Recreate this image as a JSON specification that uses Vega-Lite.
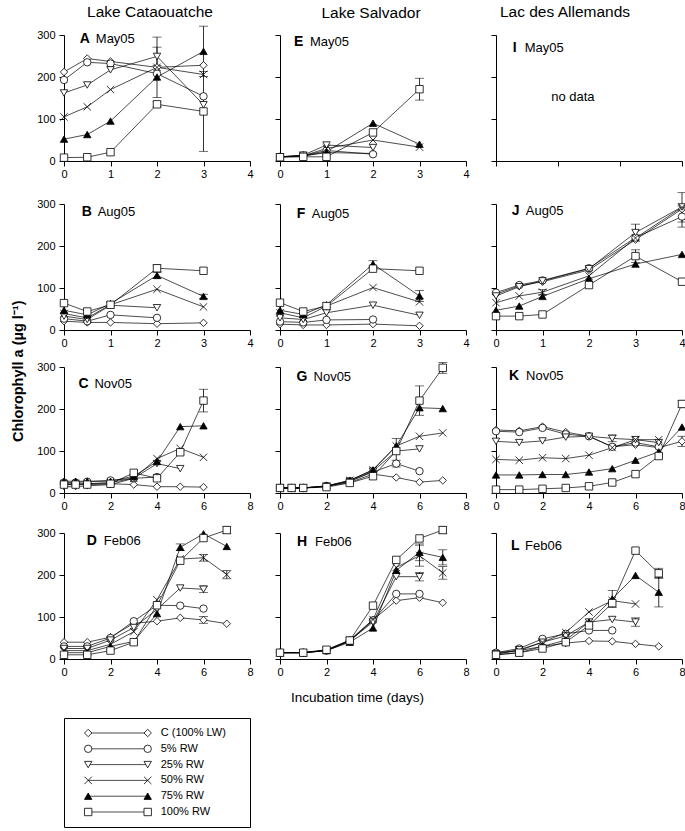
{
"$schema": "https://vega.github.io/schema/vega-lite/v6.json",
"padding": {"left": 11, "top": 5, "right": 0, "bottom": 5},
"columns": 3,
"spacing": {"row": 13, "column": 20},
"bounds": "full",
"align": "each",
"title": {"text": "Chlorophyll a (µg l⁻¹)", "orient": "left", "anchor": "middle", "fontSize": 14.5, "fontWeight": "bold", "offset": 10, "dx": 45},
"resolve": {"scale": {"x": "independent", "y": "independent"}},
"datasets": {
"A": [
{"trt":"C (100% LW)","day":0,"chl":212},{"trt":"C (100% LW)","day":0.5,"chl":244},{"trt":"C (100% LW)","day":1,"chl":237},{"trt":"C (100% LW)","day":2,"chl":223},{"trt":"C (100% LW)","day":3,"chl":228},
{"trt":"5% RW","day":0,"chl":193},{"trt":"5% RW","day":0.5,"chl":235},{"trt":"5% RW","day":1,"chl":232},{"trt":"5% RW","day":2,"chl":208},{"trt":"5% RW","day":3,"chl":154},
{"trt":"25% RW","day":0,"chl":162},{"trt":"25% RW","day":0.5,"chl":181},{"trt":"25% RW","day":1,"chl":217},{"trt":"25% RW","day":2,"chl":249,"sd":22},{"trt":"25% RW","day":3,"chl":134},
{"trt":"50% RW","day":0,"chl":105},{"trt":"50% RW","day":0.5,"chl":129},{"trt":"50% RW","day":1,"chl":170},{"trt":"50% RW","day":2,"chl":223,"sd":72},{"trt":"50% RW","day":3,"chl":206},
{"trt":"75% RW","day":0,"chl":52},{"trt":"75% RW","day":0.5,"chl":63},{"trt":"75% RW","day":1,"chl":95},{"trt":"75% RW","day":2,"chl":200},{"trt":"75% RW","day":3,"chl":261,"sd":60},
{"trt":"100% RW","day":0,"chl":8},{"trt":"100% RW","day":0.5,"chl":9},{"trt":"100% RW","day":1,"chl":21},{"trt":"100% RW","day":2,"chl":135,"sd":6},{"trt":"100% RW","day":3,"chl":118,"sd":95}
],
"E": [
{"trt":"C (100% LW)","day":0,"chl":10},{"trt":"C (100% LW)","day":0.5,"chl":12},{"trt":"C (100% LW)","day":1,"chl":20},{"trt":"C (100% LW)","day":2,"chl":18},
{"trt":"5% RW","day":0,"chl":10},{"trt":"5% RW","day":0.5,"chl":13},{"trt":"5% RW","day":1,"chl":25},{"trt":"5% RW","day":2,"chl":16},
{"trt":"25% RW","day":0,"chl":10},{"trt":"25% RW","day":0.5,"chl":14},{"trt":"25% RW","day":1,"chl":38},{"trt":"25% RW","day":2,"chl":32},
{"trt":"50% RW","day":0,"chl":10},{"trt":"50% RW","day":0.5,"chl":12},{"trt":"50% RW","day":1,"chl":30},{"trt":"50% RW","day":2,"chl":50},{"trt":"50% RW","day":3,"chl":33},
{"trt":"75% RW","day":0,"chl":10},{"trt":"75% RW","day":0.5,"chl":12},{"trt":"75% RW","day":1,"chl":22},{"trt":"75% RW","day":2,"chl":90},{"trt":"75% RW","day":3,"chl":40},
{"trt":"100% RW","day":0,"chl":9},{"trt":"100% RW","day":0.5,"chl":10},{"trt":"100% RW","day":1,"chl":10},{"trt":"100% RW","day":2,"chl":68},{"trt":"100% RW","day":3,"chl":171,"sd":26}
],
"B": [
{"trt":"C (100% LW)","day":0,"chl":21},{"trt":"C (100% LW)","day":0.5,"chl":18},{"trt":"C (100% LW)","day":1,"chl":18},{"trt":"C (100% LW)","day":2,"chl":15},{"trt":"C (100% LW)","day":3,"chl":17},
{"trt":"5% RW","day":0,"chl":27},{"trt":"5% RW","day":0.5,"chl":21},{"trt":"5% RW","day":1,"chl":36},{"trt":"5% RW","day":2,"chl":29},
{"trt":"25% RW","day":0,"chl":33},{"trt":"25% RW","day":0.5,"chl":25},{"trt":"25% RW","day":1,"chl":59},{"trt":"25% RW","day":2,"chl":53},
{"trt":"50% RW","day":0,"chl":39},{"trt":"50% RW","day":0.5,"chl":29},{"trt":"50% RW","day":1,"chl":60},{"trt":"50% RW","day":2,"chl":97},{"trt":"50% RW","day":3,"chl":55},
{"trt":"75% RW","day":0,"chl":47},{"trt":"75% RW","day":0.5,"chl":36},{"trt":"75% RW","day":1,"chl":63},{"trt":"75% RW","day":2,"chl":130,"sd":7},{"trt":"75% RW","day":3,"chl":80,"sd":5},
{"trt":"100% RW","day":0,"chl":64},{"trt":"100% RW","day":0.5,"chl":44},{"trt":"100% RW","day":1,"chl":60},{"trt":"100% RW","day":2,"chl":147,"sd":8},{"trt":"100% RW","day":3,"chl":141}
],
"F": [
{"trt":"C (100% LW)","day":0,"chl":14},{"trt":"C (100% LW)","day":0.5,"chl":12},{"trt":"C (100% LW)","day":1,"chl":12},{"trt":"C (100% LW)","day":2,"chl":14},{"trt":"C (100% LW)","day":3,"chl":10},
{"trt":"5% RW","day":0,"chl":20},{"trt":"5% RW","day":0.5,"chl":18},{"trt":"5% RW","day":1,"chl":24},{"trt":"5% RW","day":2,"chl":25},
{"trt":"25% RW","day":0,"chl":29},{"trt":"25% RW","day":0.5,"chl":25},{"trt":"25% RW","day":1,"chl":41},{"trt":"25% RW","day":2,"chl":59},{"trt":"25% RW","day":3,"chl":35},
{"trt":"50% RW","day":0,"chl":41},{"trt":"50% RW","day":0.5,"chl":29},{"trt":"50% RW","day":1,"chl":57},{"trt":"50% RW","day":2,"chl":101},{"trt":"50% RW","day":3,"chl":67},
{"trt":"75% RW","day":0,"chl":47},{"trt":"75% RW","day":0.5,"chl":37},{"trt":"75% RW","day":1,"chl":60},{"trt":"75% RW","day":2,"chl":157,"sd":8},{"trt":"75% RW","day":3,"chl":81,"sd":13},
{"trt":"100% RW","day":0,"chl":65},{"trt":"100% RW","day":0.5,"chl":44},{"trt":"100% RW","day":1,"chl":57},{"trt":"100% RW","day":2,"chl":146},{"trt":"100% RW","day":3,"chl":141}
],
"J": [
{"trt":"C (100% LW)","day":0,"chl":85},{"trt":"C (100% LW)","day":0.5,"chl":105},{"trt":"C (100% LW)","day":1,"chl":115},{"trt":"C (100% LW)","day":2,"chl":143},{"trt":"C (100% LW)","day":3,"chl":215},{"trt":"C (100% LW)","day":4,"chl":288},
{"trt":"5% RW","day":0,"chl":89},{"trt":"5% RW","day":0.5,"chl":107},{"trt":"5% RW","day":1,"chl":118},{"trt":"5% RW","day":2,"chl":147},{"trt":"5% RW","day":3,"chl":220},{"trt":"5% RW","day":4,"chl":270,"sd":25},
{"trt":"25% RW","day":0,"chl":81},{"trt":"25% RW","day":0.5,"chl":103},{"trt":"25% RW","day":1,"chl":117},{"trt":"25% RW","day":2,"chl":146},{"trt":"25% RW","day":3,"chl":232,"sd":20},{"trt":"25% RW","day":4,"chl":293},
{"trt":"50% RW","day":0,"chl":65},{"trt":"50% RW","day":0.5,"chl":81},{"trt":"50% RW","day":1,"chl":90,"sd":6},{"trt":"50% RW","day":2,"chl":129},{"trt":"50% RW","day":3,"chl":219},{"trt":"50% RW","day":4,"chl":292,"sd":35},
{"trt":"75% RW","day":0,"chl":47},{"trt":"75% RW","day":0.5,"chl":57},{"trt":"75% RW","day":1,"chl":80},{"trt":"75% RW","day":2,"chl":122},{"trt":"75% RW","day":3,"chl":157},{"trt":"75% RW","day":4,"chl":180},
{"trt":"100% RW","day":0,"chl":33},{"trt":"100% RW","day":0.5,"chl":33},{"trt":"100% RW","day":1,"chl":37},{"trt":"100% RW","day":2,"chl":107},{"trt":"100% RW","day":3,"chl":176,"sd":15},{"trt":"100% RW","day":4,"chl":115}
],
"C": [
{"trt":"C (100% LW)","day":0,"chl":20},{"trt":"C (100% LW)","day":0.5,"chl":20},{"trt":"C (100% LW)","day":1,"chl":22},{"trt":"C (100% LW)","day":2,"chl":22},{"trt":"C (100% LW)","day":3,"chl":20},{"trt":"C (100% LW)","day":4,"chl":15},{"trt":"C (100% LW)","day":5,"chl":15},{"trt":"C (100% LW)","day":6,"chl":14},
{"trt":"5% RW","day":0,"chl":25},{"trt":"5% RW","day":0.5,"chl":25},{"trt":"5% RW","day":1,"chl":27},{"trt":"5% RW","day":2,"chl":30},{"trt":"5% RW","day":3,"chl":35},{"trt":"5% RW","day":4,"chl":38},
{"trt":"25% RW","day":0,"chl":15},{"trt":"25% RW","day":0.5,"chl":15},{"trt":"25% RW","day":1,"chl":17},{"trt":"25% RW","day":2,"chl":20},{"trt":"25% RW","day":3,"chl":35},{"trt":"25% RW","day":4,"chl":70},{"trt":"25% RW","day":5,"chl":58},
{"trt":"50% RW","day":0,"chl":22},{"trt":"50% RW","day":0.5,"chl":22},{"trt":"50% RW","day":1,"chl":22},{"trt":"50% RW","day":2,"chl":25},{"trt":"50% RW","day":3,"chl":35},{"trt":"50% RW","day":4,"chl":82},{"trt":"50% RW","day":5,"chl":106},{"trt":"50% RW","day":6,"chl":85},
{"trt":"75% RW","day":0,"chl":28},{"trt":"75% RW","day":0.5,"chl":28},{"trt":"75% RW","day":1,"chl":28},{"trt":"75% RW","day":2,"chl":28},{"trt":"75% RW","day":3,"chl":40},{"trt":"75% RW","day":4,"chl":75},{"trt":"75% RW","day":5,"chl":158},{"trt":"75% RW","day":6,"chl":160},
{"trt":"100% RW","day":0,"chl":20},{"trt":"100% RW","day":0.5,"chl":20},{"trt":"100% RW","day":1,"chl":20},{"trt":"100% RW","day":2,"chl":22},{"trt":"100% RW","day":3,"chl":48},{"trt":"100% RW","day":4,"chl":35},{"trt":"100% RW","day":5,"chl":97},{"trt":"100% RW","day":6,"chl":220,"sd":27}
],
"G": [
{"trt":"C (100% LW)","day":0,"chl":12},{"trt":"C (100% LW)","day":0.5,"chl":12},{"trt":"C (100% LW)","day":1,"chl":12},{"trt":"C (100% LW)","day":2,"chl":16},{"trt":"C (100% LW)","day":3,"chl":25},{"trt":"C (100% LW)","day":4,"chl":45},{"trt":"C (100% LW)","day":5,"chl":37},{"trt":"C (100% LW)","day":6,"chl":26},{"trt":"C (100% LW)","day":7,"chl":30},
{"trt":"5% RW","day":0,"chl":12},{"trt":"5% RW","day":0.5,"chl":12},{"trt":"5% RW","day":1,"chl":12},{"trt":"5% RW","day":2,"chl":17},{"trt":"5% RW","day":3,"chl":28},{"trt":"5% RW","day":4,"chl":50},{"trt":"5% RW","day":5,"chl":70,"sd":8},{"trt":"5% RW","day":6,"chl":52},
{"trt":"25% RW","day":0,"chl":12},{"trt":"25% RW","day":0.5,"chl":12},{"trt":"25% RW","day":1,"chl":12},{"trt":"25% RW","day":2,"chl":16},{"trt":"25% RW","day":3,"chl":28},{"trt":"25% RW","day":4,"chl":52},{"trt":"25% RW","day":5,"chl":100},{"trt":"25% RW","day":6,"chl":105},
{"trt":"50% RW","day":0,"chl":12},{"trt":"50% RW","day":0.5,"chl":12},{"trt":"50% RW","day":1,"chl":12},{"trt":"50% RW","day":2,"chl":16},{"trt":"50% RW","day":3,"chl":30},{"trt":"50% RW","day":4,"chl":55},{"trt":"50% RW","day":5,"chl":112},{"trt":"50% RW","day":6,"chl":135},{"trt":"50% RW","day":7,"chl":143},
{"trt":"75% RW","day":0,"chl":12},{"trt":"75% RW","day":0.5,"chl":12},{"trt":"75% RW","day":1,"chl":12},{"trt":"75% RW","day":2,"chl":17},{"trt":"75% RW","day":3,"chl":30},{"trt":"75% RW","day":4,"chl":55},{"trt":"75% RW","day":5,"chl":112},{"trt":"75% RW","day":6,"chl":203},{"trt":"75% RW","day":7,"chl":201},
{"trt":"100% RW","day":0,"chl":12},{"trt":"100% RW","day":0.5,"chl":12},{"trt":"100% RW","day":1,"chl":12},{"trt":"100% RW","day":2,"chl":14},{"trt":"100% RW","day":3,"chl":24},{"trt":"100% RW","day":4,"chl":40},{"trt":"100% RW","day":5,"chl":100,"sd":30},{"trt":"100% RW","day":6,"chl":220,"sd":35},{"trt":"100% RW","day":7,"chl":298,"sd":13}
],
"K": [
{"trt":"C (100% LW)","day":0,"chl":150},{"trt":"C (100% LW)","day":1,"chl":148},{"trt":"C (100% LW)","day":2,"chl":158},{"trt":"C (100% LW)","day":3,"chl":145},{"trt":"C (100% LW)","day":4,"chl":135},{"trt":"C (100% LW)","day":5,"chl":110},{"trt":"C (100% LW)","day":6,"chl":115},{"trt":"C (100% LW)","day":7,"chl":108},{"trt":"C (100% LW)","day":8,"chl":123,"sd":12},
{"trt":"5% RW","day":0,"chl":147},{"trt":"5% RW","day":1,"chl":145},{"trt":"5% RW","day":2,"chl":155},{"trt":"5% RW","day":3,"chl":140},{"trt":"5% RW","day":4,"chl":135},{"trt":"5% RW","day":5,"chl":110},{"trt":"5% RW","day":6,"chl":120},{"trt":"5% RW","day":7,"chl":110},
{"trt":"25% RW","day":0,"chl":123},{"trt":"25% RW","day":1,"chl":120},{"trt":"25% RW","day":2,"chl":124},{"trt":"25% RW","day":3,"chl":133},{"trt":"25% RW","day":4,"chl":135},{"trt":"25% RW","day":5,"chl":130,"sd":8},{"trt":"25% RW","day":6,"chl":127},{"trt":"25% RW","day":7,"chl":120},
{"trt":"50% RW","day":0,"chl":80},{"trt":"50% RW","day":1,"chl":78},{"trt":"50% RW","day":2,"chl":84},{"trt":"50% RW","day":3,"chl":82},{"trt":"50% RW","day":4,"chl":90},{"trt":"50% RW","day":5,"chl":108},{"trt":"50% RW","day":6,"chl":127},{"trt":"50% RW","day":7,"chl":127},
{"trt":"75% RW","day":0,"chl":43},{"trt":"75% RW","day":1,"chl":43},{"trt":"75% RW","day":2,"chl":44},{"trt":"75% RW","day":3,"chl":44},{"trt":"75% RW","day":4,"chl":50},{"trt":"75% RW","day":5,"chl":58},{"trt":"75% RW","day":6,"chl":78},{"trt":"75% RW","day":7,"chl":98},{"trt":"75% RW","day":8,"chl":157},
{"trt":"100% RW","day":0,"chl":8},{"trt":"100% RW","day":1,"chl":8},{"trt":"100% RW","day":2,"chl":10},{"trt":"100% RW","day":3,"chl":12},{"trt":"100% RW","day":4,"chl":16},{"trt":"100% RW","day":5,"chl":25},{"trt":"100% RW","day":6,"chl":45},{"trt":"100% RW","day":7,"chl":88},{"trt":"100% RW","day":8,"chl":212,"sd":8}
],
"D": [
{"trt":"C (100% LW)","day":0,"chl":40},{"trt":"C (100% LW)","day":1,"chl":40},{"trt":"C (100% LW)","day":2,"chl":52},{"trt":"C (100% LW)","day":3,"chl":85},{"trt":"C (100% LW)","day":4,"chl":90},{"trt":"C (100% LW)","day":5,"chl":98},{"trt":"C (100% LW)","day":6,"chl":93,"sd":8},{"trt":"C (100% LW)","day":7,"chl":84},
{"trt":"5% RW","day":0,"chl":30},{"trt":"5% RW","day":1,"chl":30},{"trt":"5% RW","day":2,"chl":50},{"trt":"5% RW","day":3,"chl":90},{"trt":"5% RW","day":4,"chl":128},{"trt":"5% RW","day":5,"chl":127},{"trt":"5% RW","day":6,"chl":120},
{"trt":"25% RW","day":0,"chl":25},{"trt":"25% RW","day":1,"chl":25},{"trt":"25% RW","day":2,"chl":45},{"trt":"25% RW","day":3,"chl":75},{"trt":"25% RW","day":4,"chl":118},{"trt":"25% RW","day":5,"chl":169},{"trt":"25% RW","day":6,"chl":166,"sd":8},
{"trt":"50% RW","day":0,"chl":20},{"trt":"50% RW","day":1,"chl":20},{"trt":"50% RW","day":2,"chl":35},{"trt":"50% RW","day":3,"chl":65},{"trt":"50% RW","day":4,"chl":141},{"trt":"50% RW","day":5,"chl":238},{"trt":"50% RW","day":6,"chl":241,"sd":8},{"trt":"50% RW","day":7,"chl":201,"sd":10},
{"trt":"75% RW","day":0,"chl":15},{"trt":"75% RW","day":1,"chl":15},{"trt":"75% RW","day":2,"chl":30},{"trt":"75% RW","day":3,"chl":42},{"trt":"75% RW","day":4,"chl":108},{"trt":"75% RW","day":5,"chl":266,"sd":8},{"trt":"75% RW","day":6,"chl":298},{"trt":"75% RW","day":7,"chl":268},
{"trt":"100% RW","day":0,"chl":10},{"trt":"100% RW","day":1,"chl":10},{"trt":"100% RW","day":2,"chl":20},{"trt":"100% RW","day":3,"chl":40},{"trt":"100% RW","day":4,"chl":128},{"trt":"100% RW","day":5,"chl":234},{"trt":"100% RW","day":6,"chl":288},{"trt":"100% RW","day":7,"chl":307,"sd":8}
],
"H": [
{"trt":"C (100% LW)","day":0,"chl":15},{"trt":"C (100% LW)","day":1,"chl":15},{"trt":"C (100% LW)","day":2,"chl":20},{"trt":"C (100% LW)","day":3,"chl":42},{"trt":"C (100% LW)","day":4,"chl":93},{"trt":"C (100% LW)","day":5,"chl":139},{"trt":"C (100% LW)","day":6,"chl":146},{"trt":"C (100% LW)","day":7,"chl":134},
{"trt":"5% RW","day":0,"chl":15},{"trt":"5% RW","day":1,"chl":15},{"trt":"5% RW","day":2,"chl":20},{"trt":"5% RW","day":3,"chl":44},{"trt":"5% RW","day":4,"chl":92},{"trt":"5% RW","day":5,"chl":155},{"trt":"5% RW","day":6,"chl":155},
{"trt":"25% RW","day":0,"chl":15},{"trt":"25% RW","day":1,"chl":15},{"trt":"25% RW","day":2,"chl":20},{"trt":"25% RW","day":3,"chl":44},{"trt":"25% RW","day":4,"chl":88},{"trt":"25% RW","day":5,"chl":196},{"trt":"25% RW","day":6,"chl":196,"sd":10},
{"trt":"50% RW","day":0,"chl":15},{"trt":"50% RW","day":1,"chl":15},{"trt":"50% RW","day":2,"chl":22},{"trt":"50% RW","day":3,"chl":45},{"trt":"50% RW","day":4,"chl":94},{"trt":"50% RW","day":5,"chl":218},{"trt":"50% RW","day":6,"chl":246,"sd":25},{"trt":"50% RW","day":7,"chl":205,"sd":15},
{"trt":"75% RW","day":0,"chl":15},{"trt":"75% RW","day":1,"chl":15},{"trt":"75% RW","day":2,"chl":20},{"trt":"75% RW","day":3,"chl":40},{"trt":"75% RW","day":4,"chl":74},{"trt":"75% RW","day":5,"chl":211},{"trt":"75% RW","day":6,"chl":254,"sd":20},{"trt":"75% RW","day":7,"chl":242,"sd":18},
{"trt":"100% RW","day":0,"chl":15},{"trt":"100% RW","day":1,"chl":15},{"trt":"100% RW","day":2,"chl":22},{"trt":"100% RW","day":3,"chl":44},{"trt":"100% RW","day":4,"chl":127},{"trt":"100% RW","day":5,"chl":236},{"trt":"100% RW","day":6,"chl":287},{"trt":"100% RW","day":7,"chl":307,"sd":8}
],
"L": [
{"trt":"C (100% LW)","day":0,"chl":15},{"trt":"C (100% LW)","day":1,"chl":20},{"trt":"C (100% LW)","day":2,"chl":30},{"trt":"C (100% LW)","day":3,"chl":38},{"trt":"C (100% LW)","day":4,"chl":43},{"trt":"C (100% LW)","day":5,"chl":42},{"trt":"C (100% LW)","day":6,"chl":36},{"trt":"C (100% LW)","day":7,"chl":30},
{"trt":"5% RW","day":0,"chl":15},{"trt":"5% RW","day":1,"chl":25},{"trt":"5% RW","day":2,"chl":48},{"trt":"5% RW","day":3,"chl":60},{"trt":"5% RW","day":4,"chl":68},{"trt":"5% RW","day":5,"chl":68},
{"trt":"25% RW","day":0,"chl":12},{"trt":"25% RW","day":1,"chl":22},{"trt":"25% RW","day":2,"chl":40},{"trt":"25% RW","day":3,"chl":55},{"trt":"25% RW","day":4,"chl":88},{"trt":"25% RW","day":5,"chl":94},{"trt":"25% RW","day":6,"chl":88,"sd":10},
{"trt":"50% RW","day":0,"chl":12},{"trt":"50% RW","day":1,"chl":20},{"trt":"50% RW","day":2,"chl":40},{"trt":"50% RW","day":3,"chl":63},{"trt":"50% RW","day":4,"chl":112},{"trt":"50% RW","day":5,"chl":139},{"trt":"50% RW","day":6,"chl":131},
{"trt":"75% RW","day":0,"chl":10},{"trt":"75% RW","day":1,"chl":15},{"trt":"75% RW","day":2,"chl":30},{"trt":"75% RW","day":3,"chl":45},{"trt":"75% RW","day":4,"chl":88},{"trt":"75% RW","day":5,"chl":143,"sd":20},{"trt":"75% RW","day":6,"chl":199},{"trt":"75% RW","day":7,"chl":159,"sd":35},
{"trt":"100% RW","day":0,"chl":10},{"trt":"100% RW","day":1,"chl":15},{"trt":"100% RW","day":2,"chl":25},{"trt":"100% RW","day":3,"chl":40},{"trt":"100% RW","day":4,"chl":80},{"trt":"100% RW","day":5,"chl":133},{"trt":"100% RW","day":6,"chl":258},{"trt":"100% RW","day":7,"chl":204,"sd":12}
],
"legend": [{"trt":"C (100% LW)"},{"trt":"5% RW"},{"trt":"25% RW"},{"trt":"50% RW"},{"trt":"75% RW"},{"trt":"100% RW"}]
},
"concat": [
{"width":186,"height":126,"title":{"text":"Lake Cataouatche","dx":-7,"offset":5},
"layer":[
{"data":{"name":"A"},"encoding":{"x":{"field":"day","type":"quantitative","scale":{"domain":[0,4],"nice":false},"axis":{"values":[0,1,2,3,4],"title":null}},"y":{"field":"chl","type":"quantitative","scale":{"domain":[0,300],"nice":false},"axis":{"values":[0,100,200,300],"title":null}}},
"layer":[
{"mark":{"type":"line","color":"black","strokeWidth":0.7},"encoding":{"detail":{"field":"trt"}}},
{"transform":[{"filter":"datum.sd > 0"}],"mark":{"type":"errorbar","ticks":true,"size":9,"thickness":0.8,"color":"black"},"encoding":{"yError":{"field":"sd"}}},
{"mark":{"type":"point","filled":true,"stroke":"black","strokeWidth":0.8,"size":55,"opacity":1},"encoding":{"shape":{"field":"trt","type":"nominal","scale":{"domain":["C (100% LW)","5% RW","25% RW","50% RW","75% RW","100% RW"],"range":["diamond","circle","triangle-down","M-1,-1L1,1M-1,1L1,-1","triangle-up","square"]},"legend":null},"fill":{"field":"trt","type":"nominal","scale":{"domain":["C (100% LW)","5% RW","25% RW","50% RW","75% RW","100% RW"],"range":["white","white","white","transparent","black","white"]},"legend":null}}}
]},
{"data":{"values":[{}]},"mark":{"type":"text","fontWeight":"bold","fontSize":14,"align":"left","baseline":"middle"},"encoding":{"x":{"datum":0.34,"type":"quantitative"},"y":{"datum":290,"type":"quantitative"},"text":{"value":"A"}}},
{"data":{"values":[{}]},"mark":{"type":"text","fontSize":13,"align":"left","baseline":"middle","dx":16},"encoding":{"x":{"datum":0.34,"type":"quantitative"},"y":{"datum":290,"type":"quantitative"},"text":{"value":"May05"}}}
]},
{"width":186,"height":126,"title":{"text":"Lake Salvador","dx":-2,"offset":13.5},
"layer":[
{"data":{"name":"E"},"encoding":{"x":{"field":"day","type":"quantitative","scale":{"domain":[0,4],"nice":false},"axis":{"values":[0,1,2,3,4],"title":null}},"y":{"field":"chl","type":"quantitative","scale":{"domain":[0,300],"nice":false},"axis":{"values":[0,100,200,300],"labels":false,"title":null}}},
"layer":[
{"mark":{"type":"line","color":"black","strokeWidth":0.7},"encoding":{"detail":{"field":"trt"}}},
{"transform":[{"filter":"datum.sd > 0"}],"mark":{"type":"errorbar","ticks":true,"size":9,"thickness":0.8,"color":"black"},"encoding":{"yError":{"field":"sd"}}},
{"mark":{"type":"point","filled":true,"stroke":"black","strokeWidth":0.8,"size":55,"opacity":1},"encoding":{"shape":{"field":"trt","type":"nominal","scale":{"domain":["C (100% LW)","5% RW","25% RW","50% RW","75% RW","100% RW"],"range":["diamond","circle","triangle-down","M-1,-1L1,1M-1,1L1,-1","triangle-up","square"]},"legend":null},"fill":{"field":"trt","type":"nominal","scale":{"domain":["C (100% LW)","5% RW","25% RW","50% RW","75% RW","100% RW"],"range":["white","white","white","transparent","black","white"]},"legend":null}}}
]},
{"data":{"values":[{}]},"mark":{"type":"text","fontWeight":"bold","fontSize":14,"align":"left","baseline":"middle"},"encoding":{"x":{"datum":0.30,"type":"quantitative"},"y":{"datum":283,"type":"quantitative"},"text":{"value":"E"}}},
{"data":{"values":[{}]},"mark":{"type":"text","fontSize":13,"align":"left","baseline":"middle","dx":16},"encoding":{"x":{"datum":0.30,"type":"quantitative"},"y":{"datum":283,"type":"quantitative"},"text":{"value":"May05"}}}
]},
{"width":186,"height":126,"title":{"text":"Lac des Allemands","dx":-24,"offset":14},
"layer":[
{"data":{"values":[{}]},"mark":{"type":"text","fontWeight":"bold","fontSize":14,"align":"left","baseline":"middle"},"encoding":{"x":{"datum":0.27,"type":"quantitative","scale":{"domain":[0,3],"nice":false},"axis":{"values":[0,1,2,3],"labels":false,"title":null}},"y":{"datum":269,"type":"quantitative","scale":{"domain":[0,300],"nice":false},"axis":{"values":[0,100,200,300],"labels":false,"title":null}},"text":{"value":"I"}}},
{"data":{"values":[{}]},"mark":{"type":"text","fontSize":13,"align":"left","baseline":"middle","dx":12},"encoding":{"x":{"datum":0.27,"type":"quantitative"},"y":{"datum":269,"type":"quantitative"},"text":{"value":"May05"}}},
{"data":{"values":[{}]},"mark":{"type":"text","fontSize":13,"align":"center","baseline":"middle"},"encoding":{"x":{"datum":1.24,"type":"quantitative"},"y":{"datum":153,"type":"quantitative"},"text":{"value":"no data"}}}
]},
{"width":186,"height":126,
"layer":[
{"data":{"name":"B"},"encoding":{"x":{"field":"day","type":"quantitative","scale":{"domain":[0,4],"nice":false},"axis":{"values":[0,1,2,3,4],"title":null}},"y":{"field":"chl","type":"quantitative","scale":{"domain":[0,300],"nice":false},"axis":{"values":[0,100,200,300],"title":null}}},
"layer":[
{"mark":{"type":"line","color":"black","strokeWidth":0.7},"encoding":{"detail":{"field":"trt"}}},
{"transform":[{"filter":"datum.sd > 0"}],"mark":{"type":"errorbar","ticks":true,"size":9,"thickness":0.8,"color":"black"},"encoding":{"yError":{"field":"sd"}}},
{"mark":{"type":"point","filled":true,"stroke":"black","strokeWidth":0.8,"size":55,"opacity":1},"encoding":{"shape":{"field":"trt","type":"nominal","scale":{"domain":["C (100% LW)","5% RW","25% RW","50% RW","75% RW","100% RW"],"range":["diamond","circle","triangle-down","M-1,-1L1,1M-1,1L1,-1","triangle-up","square"]},"legend":null},"fill":{"field":"trt","type":"nominal","scale":{"domain":["C (100% LW)","5% RW","25% RW","50% RW","75% RW","100% RW"],"range":["white","white","white","transparent","black","white"]},"legend":null}}}
]},
{"data":{"values":[{}]},"mark":{"type":"text","fontWeight":"bold","fontSize":14,"align":"left","baseline":"middle"},"encoding":{"x":{"datum":0.38,"type":"quantitative"},"y":{"datum":281,"type":"quantitative"},"text":{"value":"B"}}},
{"data":{"values":[{}]},"mark":{"type":"text","fontSize":13,"align":"left","baseline":"middle","dx":16},"encoding":{"x":{"datum":0.38,"type":"quantitative"},"y":{"datum":281,"type":"quantitative"},"text":{"value":"Aug05"}}}
]},
{"width":186,"height":126,
"layer":[
{"data":{"name":"F"},"encoding":{"x":{"field":"day","type":"quantitative","scale":{"domain":[0,4],"nice":false},"axis":{"values":[0,1,2,3,4],"title":null}},"y":{"field":"chl","type":"quantitative","scale":{"domain":[0,300],"nice":false},"axis":{"values":[0,100,200,300],"labels":false,"title":null}}},
"layer":[
{"mark":{"type":"line","color":"black","strokeWidth":0.7},"encoding":{"detail":{"field":"trt"}}},
{"transform":[{"filter":"datum.sd > 0"}],"mark":{"type":"errorbar","ticks":true,"size":9,"thickness":0.8,"color":"black"},"encoding":{"yError":{"field":"sd"}}},
{"mark":{"type":"point","filled":true,"stroke":"black","strokeWidth":0.8,"size":55,"opacity":1},"encoding":{"shape":{"field":"trt","type":"nominal","scale":{"domain":["C (100% LW)","5% RW","25% RW","50% RW","75% RW","100% RW"],"range":["diamond","circle","triangle-down","M-1,-1L1,1M-1,1L1,-1","triangle-up","square"]},"legend":null},"fill":{"field":"trt","type":"nominal","scale":{"domain":["C (100% LW)","5% RW","25% RW","50% RW","75% RW","100% RW"],"range":["white","white","white","transparent","black","white"]},"legend":null}}}
]},
{"data":{"values":[{}]},"mark":{"type":"text","fontWeight":"bold","fontSize":14,"align":"left","baseline":"middle"},"encoding":{"x":{"datum":0.36,"type":"quantitative"},"y":{"datum":277,"type":"quantitative"},"text":{"value":"F"}}},
{"data":{"values":[{}]},"mark":{"type":"text","fontSize":13,"align":"left","baseline":"middle","dx":15},"encoding":{"x":{"datum":0.36,"type":"quantitative"},"y":{"datum":277,"type":"quantitative"},"text":{"value":"Aug05"}}}
]},
{"width":186,"height":126,
"layer":[
{"data":{"name":"J"},"encoding":{"x":{"field":"day","type":"quantitative","scale":{"domain":[0,4],"nice":false},"axis":{"values":[0,1,2,3,4],"title":null}},"y":{"field":"chl","type":"quantitative","scale":{"domain":[0,300],"nice":false},"axis":{"values":[0,100,200,300],"labels":false,"title":null}}},
"layer":[
{"mark":{"type":"line","color":"black","strokeWidth":0.7},"encoding":{"detail":{"field":"trt"}}},
{"transform":[{"filter":"datum.sd > 0"}],"mark":{"type":"errorbar","ticks":true,"size":9,"thickness":0.8,"color":"black"},"encoding":{"yError":{"field":"sd"}}},
{"mark":{"type":"point","filled":true,"stroke":"black","strokeWidth":0.8,"size":55,"opacity":1},"encoding":{"shape":{"field":"trt","type":"nominal","scale":{"domain":["C (100% LW)","5% RW","25% RW","50% RW","75% RW","100% RW"],"range":["diamond","circle","triangle-down","M-1,-1L1,1M-1,1L1,-1","triangle-up","square"]},"legend":null},"fill":{"field":"trt","type":"nominal","scale":{"domain":["C (100% LW)","5% RW","25% RW","50% RW","75% RW","100% RW"],"range":["white","white","white","transparent","black","white"]},"legend":null}}}
]},
{"data":{"values":[{}]},"mark":{"type":"text","fontWeight":"bold","fontSize":14,"align":"left","baseline":"middle"},"encoding":{"x":{"datum":0.34,"type":"quantitative"},"y":{"datum":284,"type":"quantitative"},"text":{"value":"J"}}},
{"data":{"values":[{}]},"mark":{"type":"text","fontSize":13,"align":"left","baseline":"middle","dx":14},"encoding":{"x":{"datum":0.34,"type":"quantitative"},"y":{"datum":284,"type":"quantitative"},"text":{"value":"Aug05"}}}
]},
{"width":186,"height":126,
"layer":[
{"data":{"name":"C"},"encoding":{"x":{"field":"day","type":"quantitative","scale":{"domain":[0,8],"nice":false},"axis":{"values":[0,1,2,3,4,5,6,7,8],"title":null}},"y":{"field":"chl","type":"quantitative","scale":{"domain":[0,300],"nice":false},"axis":{"values":[0,100,200,300],"title":null}}},
"layer":[
{"mark":{"type":"line","color":"black","strokeWidth":0.7},"encoding":{"detail":{"field":"trt"}}},
{"transform":[{"filter":"datum.sd > 0"}],"mark":{"type":"errorbar","ticks":true,"size":9,"thickness":0.8,"color":"black"},"encoding":{"yError":{"field":"sd"}}},
{"mark":{"type":"point","filled":true,"stroke":"black","strokeWidth":0.8,"size":55,"opacity":1},"encoding":{"shape":{"field":"trt","type":"nominal","scale":{"domain":["C (100% LW)","5% RW","25% RW","50% RW","75% RW","100% RW"],"range":["diamond","circle","triangle-down","M-1,-1L1,1M-1,1L1,-1","triangle-up","square"]},"legend":null},"fill":{"field":"trt","type":"nominal","scale":{"domain":["C (100% LW)","5% RW","25% RW","50% RW","75% RW","100% RW"],"range":["white","white","white","transparent","black","white"]},"legend":null}}}
]},
{"data":{"values":[{}]},"mark":{"type":"text","fontWeight":"bold","fontSize":14,"align":"left","baseline":"middle"},"encoding":{"x":{"datum":0.62,"type":"quantitative"},"y":{"datum":260,"type":"quantitative"},"text":{"value":"C"}}},
{"data":{"values":[{}]},"mark":{"type":"text","fontSize":13,"align":"left","baseline":"middle","dx":16},"encoding":{"x":{"datum":0.62,"type":"quantitative"},"y":{"datum":260,"type":"quantitative"},"text":{"value":"Nov05"}}}
]},
{"width":186,"height":126,
"layer":[
{"data":{"name":"G"},"encoding":{"x":{"field":"day","type":"quantitative","scale":{"domain":[0,8],"nice":false},"axis":{"values":[0,1,2,3,4,5,6,7,8],"title":null}},"y":{"field":"chl","type":"quantitative","scale":{"domain":[0,300],"nice":false},"axis":{"values":[0,100,200,300],"labels":false,"title":null}}},
"layer":[
{"mark":{"type":"line","color":"black","strokeWidth":0.7},"encoding":{"detail":{"field":"trt"}}},
{"transform":[{"filter":"datum.sd > 0"}],"mark":{"type":"errorbar","ticks":true,"size":9,"thickness":0.8,"color":"black"},"encoding":{"yError":{"field":"sd"}}},
{"mark":{"type":"point","filled":true,"stroke":"black","strokeWidth":0.8,"size":55,"opacity":1},"encoding":{"shape":{"field":"trt","type":"nominal","scale":{"domain":["C (100% LW)","5% RW","25% RW","50% RW","75% RW","100% RW"],"range":["diamond","circle","triangle-down","M-1,-1L1,1M-1,1L1,-1","triangle-up","square"]},"legend":null},"fill":{"field":"trt","type":"nominal","scale":{"domain":["C (100% LW)","5% RW","25% RW","50% RW","75% RW","100% RW"],"range":["white","white","white","transparent","black","white"]},"legend":null}}}
]},
{"data":{"values":[{}]},"mark":{"type":"text","fontWeight":"bold","fontSize":14,"align":"left","baseline":"middle"},"encoding":{"x":{"datum":0.71,"type":"quantitative"},"y":{"datum":276,"type":"quantitative"},"text":{"value":"G"}}},
{"data":{"values":[{}]},"mark":{"type":"text","fontSize":13,"align":"left","baseline":"middle","dx":17},"encoding":{"x":{"datum":0.71,"type":"quantitative"},"y":{"datum":276,"type":"quantitative"},"text":{"value":"Nov05"}}}
]},
{"width":186,"height":126,
"layer":[
{"data":{"name":"K"},"encoding":{"x":{"field":"day","type":"quantitative","scale":{"domain":[0,8],"nice":false},"axis":{"values":[0,1,2,3,4,5,6,7,8],"title":null}},"y":{"field":"chl","type":"quantitative","scale":{"domain":[0,300],"nice":false},"axis":{"values":[0,100,200,300],"labels":false,"title":null}}},
"layer":[
{"mark":{"type":"line","color":"black","strokeWidth":0.7},"encoding":{"detail":{"field":"trt"}}},
{"transform":[{"filter":"datum.sd > 0"}],"mark":{"type":"errorbar","ticks":true,"size":9,"thickness":0.8,"color":"black"},"encoding":{"yError":{"field":"sd"}}},
{"mark":{"type":"point","filled":true,"stroke":"black","strokeWidth":0.8,"size":55,"opacity":1},"encoding":{"shape":{"field":"trt","type":"nominal","scale":{"domain":["C (100% LW)","5% RW","25% RW","50% RW","75% RW","100% RW"],"range":["diamond","circle","triangle-down","M-1,-1L1,1M-1,1L1,-1","triangle-up","square"]},"legend":null},"fill":{"field":"trt","type":"nominal","scale":{"domain":["C (100% LW)","5% RW","25% RW","50% RW","75% RW","100% RW"],"range":["white","white","white","transparent","black","white"]},"legend":null}}}
]},
{"data":{"values":[{}]},"mark":{"type":"text","fontWeight":"bold","fontSize":14,"align":"left","baseline":"middle"},"encoding":{"x":{"datum":0.56,"type":"quantitative"},"y":{"datum":279,"type":"quantitative"},"text":{"value":"K"}}},
{"data":{"values":[{}]},"mark":{"type":"text","fontSize":13,"align":"left","baseline":"middle","dx":17},"encoding":{"x":{"datum":0.56,"type":"quantitative"},"y":{"datum":279,"type":"quantitative"},"text":{"value":"Nov05"}}}
]},
{"width":186,"height":126,
"layer":[
{"data":{"name":"D"},"encoding":{"x":{"field":"day","type":"quantitative","scale":{"domain":[0,8],"nice":false},"axis":{"values":[0,1,2,3,4,5,6,7,8],"title":null}},"y":{"field":"chl","type":"quantitative","scale":{"domain":[0,300],"nice":false},"axis":{"values":[0,100,200,300],"title":null}}},
"layer":[
{"mark":{"type":"line","color":"black","strokeWidth":0.7},"encoding":{"detail":{"field":"trt"}}},
{"transform":[{"filter":"datum.sd > 0"}],"mark":{"type":"errorbar","ticks":true,"size":9,"thickness":0.8,"color":"black"},"encoding":{"yError":{"field":"sd"}}},
{"mark":{"type":"point","filled":true,"stroke":"black","strokeWidth":0.8,"size":55,"opacity":1},"encoding":{"shape":{"field":"trt","type":"nominal","scale":{"domain":["C (100% LW)","5% RW","25% RW","50% RW","75% RW","100% RW"],"range":["diamond","circle","triangle-down","M-1,-1L1,1M-1,1L1,-1","triangle-up","square"]},"legend":null},"fill":{"field":"trt","type":"nominal","scale":{"domain":["C (100% LW)","5% RW","25% RW","50% RW","75% RW","100% RW"],"range":["white","white","white","transparent","black","white"]},"legend":null}}}
]},
{"data":{"values":[{}]},"mark":{"type":"text","fontWeight":"bold","fontSize":14,"align":"left","baseline":"middle"},"encoding":{"x":{"datum":0.98,"type":"quantitative"},"y":{"datum":282,"type":"quantitative"},"text":{"value":"D"}}},
{"data":{"values":[{}]},"mark":{"type":"text","fontSize":13,"align":"left","baseline":"middle","dx":17},"encoding":{"x":{"datum":0.98,"type":"quantitative"},"y":{"datum":282,"type":"quantitative"},"text":{"value":"Feb06"}}}
]},
{"width":186,"height":126,
"layer":[
{"data":{"name":"H"},"encoding":{"x":{"field":"day","type":"quantitative","scale":{"domain":[0,8],"nice":false},"axis":{"values":[0,1,2,3,4,5,6,7,8],"title":"Incubation time (days)","titleX":77,"titleFontSize":13.5,"titleFontWeight":"normal","titlePadding":13}},"y":{"field":"chl","type":"quantitative","scale":{"domain":[0,300],"nice":false},"axis":{"values":[0,100,200,300],"labels":false,"title":null}}},
"layer":[
{"mark":{"type":"line","color":"black","strokeWidth":0.7},"encoding":{"detail":{"field":"trt"}}},
{"transform":[{"filter":"datum.sd > 0"}],"mark":{"type":"errorbar","ticks":true,"size":9,"thickness":0.8,"color":"black"},"encoding":{"yError":{"field":"sd"}}},
{"mark":{"type":"point","filled":true,"stroke":"black","strokeWidth":0.8,"size":55,"opacity":1},"encoding":{"shape":{"field":"trt","type":"nominal","scale":{"domain":["C (100% LW)","5% RW","25% RW","50% RW","75% RW","100% RW"],"range":["diamond","circle","triangle-down","M-1,-1L1,1M-1,1L1,-1","triangle-up","square"]},"legend":null},"fill":{"field":"trt","type":"nominal","scale":{"domain":["C (100% LW)","5% RW","25% RW","50% RW","75% RW","100% RW"],"range":["white","white","white","transparent","black","white"]},"legend":null}}}
]},
{"data":{"values":[{}]},"mark":{"type":"text","fontWeight":"bold","fontSize":14,"align":"left","baseline":"middle"},"encoding":{"x":{"datum":0.73,"type":"quantitative"},"y":{"datum":278,"type":"quantitative"},"text":{"value":"H"}}},
{"data":{"values":[{}]},"mark":{"type":"text","fontSize":13,"align":"left","baseline":"middle","dx":18},"encoding":{"x":{"datum":0.73,"type":"quantitative"},"y":{"datum":278,"type":"quantitative"},"text":{"value":"Feb06"}}}
]},
{"width":186,"height":126,
"layer":[
{"data":{"name":"L"},"encoding":{"x":{"field":"day","type":"quantitative","scale":{"domain":[0,8],"nice":false},"axis":{"values":[0,1,2,3,4,5,6,7,8],"title":null}},"y":{"field":"chl","type":"quantitative","scale":{"domain":[0,300],"nice":false},"axis":{"values":[0,100,200,300],"labels":false,"title":null}}},
"layer":[
{"mark":{"type":"line","color":"black","strokeWidth":0.7},"encoding":{"detail":{"field":"trt"}}},
{"transform":[{"filter":"datum.sd > 0"}],"mark":{"type":"errorbar","ticks":true,"size":9,"thickness":0.8,"color":"black"},"encoding":{"yError":{"field":"sd"}}},
{"mark":{"type":"point","filled":true,"stroke":"black","strokeWidth":0.8,"size":55,"opacity":1},"encoding":{"shape":{"field":"trt","type":"nominal","scale":{"domain":["C (100% LW)","5% RW","25% RW","50% RW","75% RW","100% RW"],"range":["diamond","circle","triangle-down","M-1,-1L1,1M-1,1L1,-1","triangle-up","square"]},"legend":null},"fill":{"field":"trt","type":"nominal","scale":{"domain":["C (100% LW)","5% RW","25% RW","50% RW","75% RW","100% RW"],"range":["white","white","white","transparent","black","white"]},"legend":null}}}
]},
{"data":{"values":[{}]},"mark":{"type":"text","fontWeight":"bold","fontSize":14,"align":"left","baseline":"middle"},"encoding":{"x":{"datum":0.65,"type":"quantitative"},"y":{"datum":270,"type":"quantitative"},"text":{"value":"L"}}},
{"data":{"values":[{}]},"mark":{"type":"text","fontSize":13,"align":"left","baseline":"middle","dx":14},"encoding":{"x":{"datum":0.65,"type":"quantitative"},"y":{"datum":270,"type":"quantitative"},"text":{"value":"Feb06"}}}
]},
{"width":186,"height":109,"data":{"name":"legend"},"view":{"stroke":"black","strokeWidth":1},
"encoding":{"y":{"field":"trt","type":"nominal","scale":{"type":"point","domain":["C (100% LW)","5% RW","25% RW","50% RW","75% RW","100% RW"],"padding":0.95},"axis":null}},
"layer":[
{"mark":{"type":"rule","color":"black","strokeWidth":0.7},"encoding":{"x":{"datum":1.3,"type":"quantitative","scale":{"domain":[0,10],"nice":false},"axis":null},"x2":{"datum":4.5}}},
{"mark":{"type":"point","filled":true,"stroke":"black","strokeWidth":0.8,"size":55,"opacity":1},"encoding":{"x":{"datum":1.3,"type":"quantitative","axis":null},"shape":{"field":"trt","type":"nominal","scale":{"domain":["C (100% LW)","5% RW","25% RW","50% RW","75% RW","100% RW"],"range":["diamond","circle","triangle-down","M-1,-1L1,1M-1,1L1,-1","triangle-up","square"]},"legend":null},"fill":{"field":"trt","type":"nominal","scale":{"domain":["C (100% LW)","5% RW","25% RW","50% RW","75% RW","100% RW"],"range":["white","white","white","transparent","black","white"]},"legend":null}}},
{"mark":{"type":"point","filled":true,"stroke":"black","strokeWidth":0.8,"size":55,"opacity":1},"encoding":{"x":{"datum":4.5,"type":"quantitative","axis":null},"shape":{"field":"trt","type":"nominal","scale":{"domain":["C (100% LW)","5% RW","25% RW","50% RW","75% RW","100% RW"],"range":["diamond","circle","triangle-down","M-1,-1L1,1M-1,1L1,-1","triangle-up","square"]},"legend":null},"fill":{"field":"trt","type":"nominal","scale":{"domain":["C (100% LW)","5% RW","25% RW","50% RW","75% RW","100% RW"],"range":["white","white","white","transparent","black","white"]},"legend":null}}},
{"mark":{"type":"text","align":"left","baseline":"middle","fontSize":11},"encoding":{"x":{"datum":5.2,"type":"quantitative","axis":null},"text":{"field":"trt"}}}
]}
],
"config": {
"font": "Liberation Sans",
"view": {"stroke": null},
"axis": {"grid": false, "domainColor": "black", "tickColor": "black", "labelColor": "black", "labelFontSize": 11, "tickSize": 5, "domainWidth": 1, "tickWidth": 1, "titleColor": "black", "labelFont": "Liberation Sans", "titleFont": "Liberation Sans", "labelOverlap": false},
"axisX": {"labelFlush": false, "labelPadding": 2},
"axisY": {"labelPadding": 4},
"title": {"font": "Liberation Sans", "fontSize": 15.5, "fontWeight": "normal", "color": "black"}
}
}
